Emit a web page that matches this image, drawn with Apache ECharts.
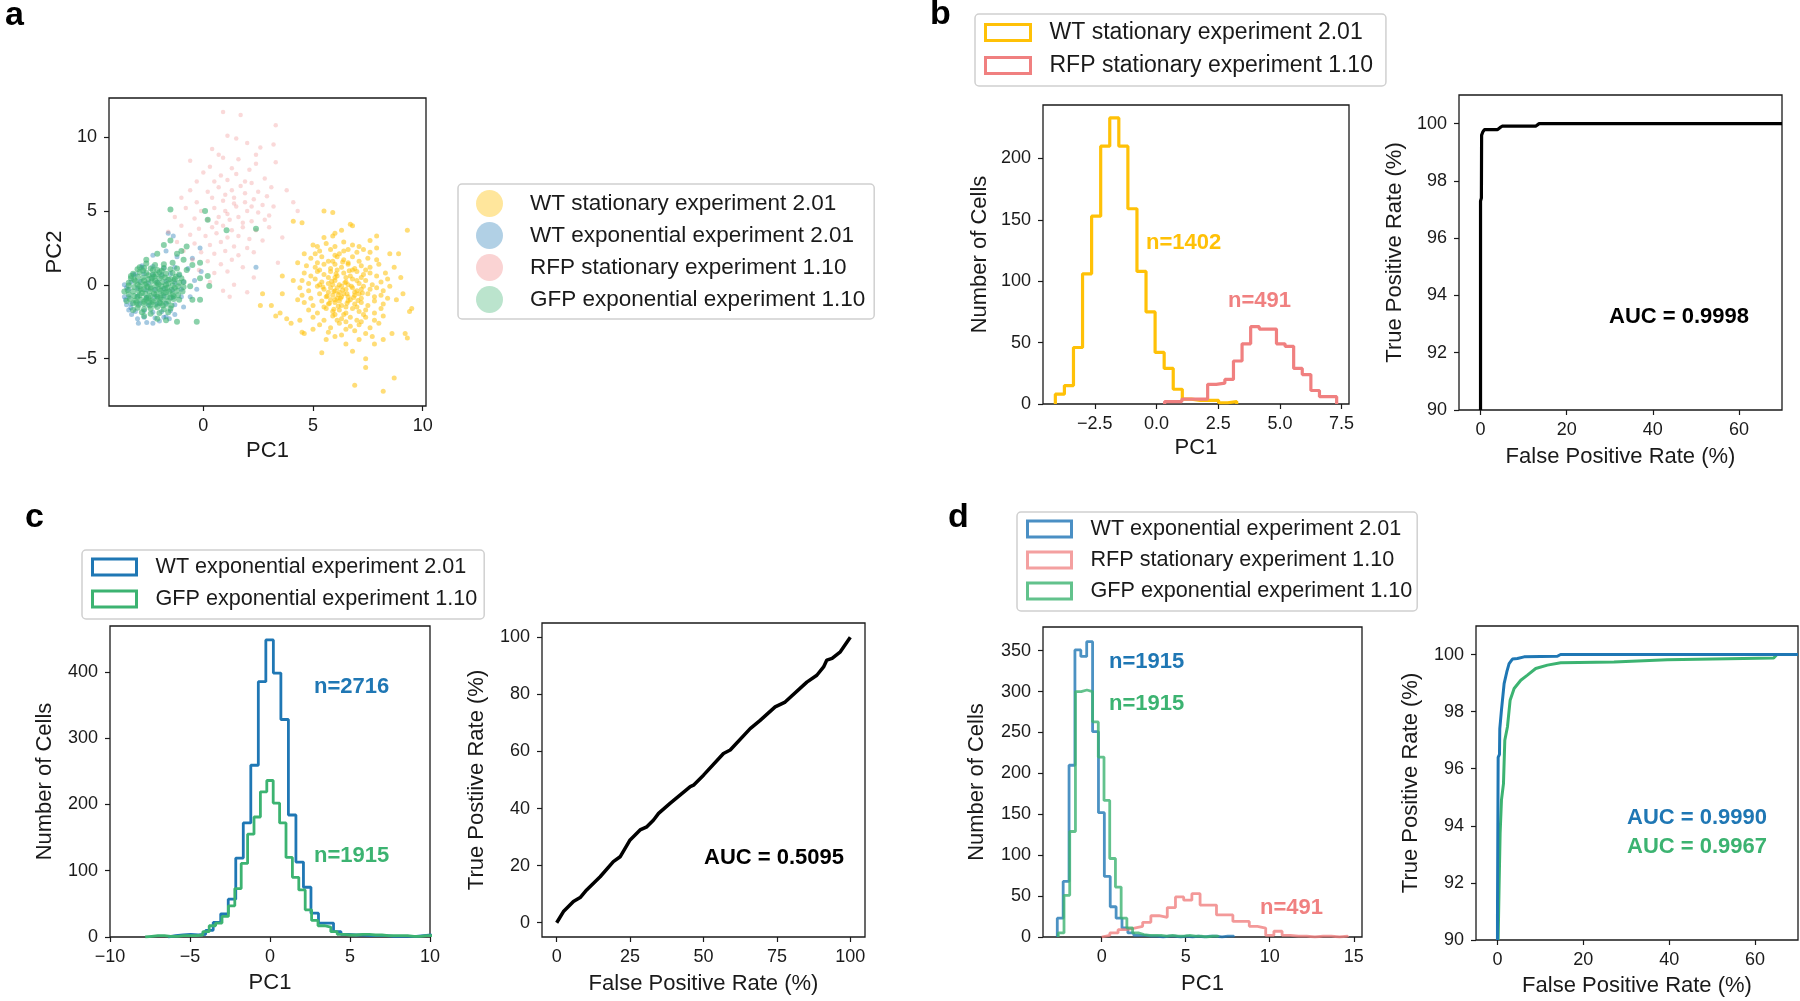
<!DOCTYPE html>
<html>
<head>
<meta charset="utf-8">
<title>PCA histograms and ROC curves</title>
<script src="https://cdn.jsdelivr.net/npm/echarts@6/dist/echarts.min.js"></script>
<style>
  html, body { margin: 0; padding: 0; background: #fff; }
  #chart { width: 1800px; height: 1001px; }
</style>
</head>
<body>
<div id="chart"></div>
<script>
// ---- names ----
const WT_STAT = 'WT stationary experiment 2.01';
const WT_EXP = 'WT exponential experiment 2.01';
const RFP_STAT = 'RFP stationary experiment 1.10';
const GFP_EXP = 'GFP exponential experiment 1.10';

// ---- panel a: PC1 / PC2 scatter ----
const wtStationaryPts = [
  [5.5,5.0],[5.9,4.9],[9.3,3.7],[4.1,4.3],[4.5,4.2],[7.9,3.3],[8.9,2.1],[9.4,-1.8],[9.5,-1.6],[9.2,-3.3],
  [9.3,-3.6],[8.7,-6.3],[8.2,-7.2],[6.9,-6.8],[5.4,-4.6],[6.8,-4.5],[7.4,-5.0],[7.4,-5.6],[3.3,-2.1],[3.1,-1.4],
  [2.7,-0.6],[2.6,-1.4],[3.6,0.6],[3.6,-0.6],[3.5,-1.9],[3.8,-2.3],[4.0,-2.6],[4.5,-3.2],[4.6,-3.3],[7.6,3.0],
  [6.8,4.0],[6.7,4.1],[6.3,3.7],[6.0,3.5],[7.9,2.5],[8.5,2.1],[8.7,1.2],[9.0,0.5],[9.1,-0.6],[8.8,-1.0],
  [8.6,-3.3],[8.2,-3.7],[7.8,-4.0],[7.1,-3.7],[6.5,-4.0],[5.6,-3.7],[5.0,-3.0],[4.4,-2.4],[4.3,-1.0],[4.1,0.3],
  [4.3,1.5],[4.6,2.1],[5.0,2.7],[5.5,3.2],[5.9,3.3],
  [5.6,2.8],[6.4,2.9],[7.1,2.6],[6.0,2.6],[6.8,2.7],[5.2,2.6],
  [5.3,2.3],[5.8,2.4],[6.2,2.1],[6.6,2.4],[7.0,2.2],[7.3,2.4],[6.0,2.0],[5.1,2.1],[7.6,2.2],[6.4,2.3],
  [4.9,1.8],[5.4,1.9],[5.7,1.6],[6.1,1.9],[6.4,1.7],[6.8,1.9],[7.1,1.6],[7.5,1.8],[7.9,1.7],[5.9,1.6],[6.6,1.5],[5.2,1.5],
  [4.7,1.3],[5.1,1.2],[5.5,1.4],[5.8,1.1],[6.0,1.4],[6.3,1.2],[6.6,1.4],[6.9,1.1],[7.2,1.3],[7.6,1.2],[8.0,1.4],[5.3,1.0],[6.8,1.0],[7.4,1.0],[6.1,1.0],
  [4.6,0.8],[4.9,0.6],[5.2,0.9],[5.5,0.7],[5.8,0.9],[6.1,0.6],[6.4,0.8],[6.7,0.6],[7.0,0.9],[7.3,0.7],[7.6,0.8],[7.9,0.6],[8.3,0.8],[6.0,0.5],[6.5,0.5],[5.7,0.5],[7.2,0.5],
  [4.5,0.3],[4.8,0.1],[5.1,0.4],[5.4,0.2],[5.7,0.1],[6.0,0.3],[6.2,0.0],[6.5,0.2],[6.8,0.4],[7.1,0.1],[7.4,0.3],[7.7,0.0],[8.1,0.2],[8.4,0.4],[5.9,0.0],[6.6,0.0],[7.0,0.3],[5.3,0.0],
  [4.4,-0.2],[4.8,-0.4],[5.2,-0.1],[5.5,-0.3],[5.8,-0.2],[6.0,-0.4],[6.3,-0.1],[6.5,-0.3],[6.8,-0.2],[7.0,-0.4],[7.3,-0.1],[7.6,-0.3],[7.9,-0.2],[8.2,-0.4],[8.5,-0.1],[5.7,-0.5],[6.2,-0.5],[6.9,-0.5],[6.1,-0.2],[7.2,-0.3],
  [4.5,-0.7],[4.9,-0.9],[5.3,-0.6],[5.6,-0.8],[5.9,-0.7],[6.1,-0.9],[6.4,-0.6],[6.6,-0.8],[6.9,-0.7],[7.2,-0.9],[7.5,-0.6],[7.8,-0.8],[8.1,-0.7],[8.4,-0.9],[6.0,-1.0],[6.7,-1.0],[7.1,-0.6],[6.3,-0.8],[5.8,-1.0],
  [4.6,-1.2],[5.0,-1.4],[5.4,-1.1],[5.7,-1.3],[6.0,-1.2],[6.3,-1.4],[6.6,-1.1],[6.9,-1.3],[7.2,-1.2],[7.5,-1.4],[7.8,-1.1],[8.2,-1.3],[6.5,-1.5],[7.0,-1.5],[6.2,-1.1],[5.5,-1.5],
  [4.8,-1.7],[5.2,-1.9],[5.6,-1.6],[5.9,-1.8],[6.2,-1.7],[6.5,-1.9],[6.8,-1.6],[7.1,-1.8],[7.4,-1.7],[7.8,-1.9],[8.1,-1.6],[6.4,-2.0],[6.0,-2.0],[7.3,-2.0],
  [5.0,-2.2],[5.5,-2.4],[5.9,-2.1],[6.3,-2.3],[6.7,-2.2],[7.0,-2.4],[7.4,-2.2],[7.8,-2.4],[8.2,-2.1],[6.5,-2.5],[6.1,-2.4],[7.2,-2.5],
  [5.3,-2.7],[5.8,-2.9],[6.2,-2.6],[6.7,-2.8],[7.1,-2.7],[7.6,-2.9],[8.0,-2.6],[6.5,-3.0],
  [5.7,-3.2],[6.3,-3.4],[6.9,-3.1],[7.4,-3.3],[6.0,-3.5],[7.7,-3.5],
  [6.15,-0.65],[6.35,-0.35],[5.95,-0.45],[6.55,-0.6],[6.25,-0.9],[6.45,0.15],[5.85,0.25],[6.75,-0.1],[5.65,-0.75],[6.85,-0.85],
  [6.05,0.75],[6.65,0.95],[5.45,-0.15],[7.05,-1.05],[6.15,-1.45],[6.55,-1.25],[5.75,-1.25],[7.25,-0.55],[6.35,1.55],[5.95,-1.65]
];
const wtExponentialPts = [
  [-2.8,1.2],[-2.3,1.25],[-1.8,1.15],[-1.3,1.2],
  [-3.1,0.7],[-2.7,0.75],[-2.3,0.65],[-1.9,0.7],[-1.5,0.75],[-1.1,0.65],
  [-3.3,0.2],[-2.9,0.25],[-2.5,0.15],[-2.1,0.2],[-1.7,0.25],[-1.3,0.15],[-0.9,0.2],
  [-3.4,-0.3],[-3.0,-0.25],[-2.6,-0.35],[-2.2,-0.3],[-1.8,-0.25],[-1.4,-0.35],[-1.0,-0.3],
  [-3.4,-0.8],[-3.0,-0.75],[-2.6,-0.85],[-2.2,-0.8],[-1.8,-0.75],[-1.4,-0.85],[-1.0,-0.8],
  [-3.3,-1.3],[-2.9,-1.25],[-2.5,-1.35],[-2.1,-1.3],[-1.7,-1.25],[-1.3,-1.35],
  [-3.1,-1.8],[-2.7,-1.75],[-2.3,-1.85],[-1.9,-1.8],[-1.5,-1.75],
  [-2.7,-2.2],[-2.2,-2.25],[-1.7,-2.15],
  [-3.5,-1.35],[-3.27,-2.0],[-2.96,-2.6],[-2.58,-2.55],[-0.15,2.5],[-0.5,1.8],[2.4,1.2],[-1.6,3.5],
  [-1.37,3.3],[-3.6,-0.8],[-3.5,-0.2],[-3.4,-1.7],[-3.0,-2.3],[-2.3,-2.6],[-1.8,-2.2],[-1.3,-2.0],
  [-0.9,-1.5],[-0.6,-0.8],[-0.4,0.3],[-0.7,1.1],[-1.2,1.9],[-1.7,2.3],[-2.3,2.0],[-2.8,1.3],
  [-3.2,0.7],[-3.6,0.0],[-0.1,0.9],[-0.3,-0.3],[-3.55,-1.0],[-3.3,-1.55],[-2.0,-2.45],[-1.55,-2.3]
];
const rfpStationaryPts = [
  [0.9,11.7],[1.7,11.5],[3.3,10.8],[1.1,10.1],[1.5,9.9],[3.2,9.5],[2.4,8.8],[2.4,8.2],[-0.6,8.4],[3.3,8.3],
  [4.1,5.6],[3.8,6.4],[0.7,8.8],[0.9,8.6],[1.6,8.5],[0.3,8.0],[1.3,7.9],[2.1,7.8],[0.0,7.6],[0.8,7.4],
  [1.5,7.5],[2.8,7.2],[-0.3,7.0],[0.5,7.0],[1.1,7.1],[1.9,7.0],[2.2,6.9],[3.1,6.6],[-0.6,6.4],[0.2,6.3],
  [0.7,6.6],[1.3,6.4],[1.7,6.7],[2.5,6.3],[2.9,6.0],[-1.0,5.9],[-0.3,5.6],[0.4,5.9],[0.9,5.7],[1.4,5.9],
  [1.9,5.6],[2.3,5.8],[2.7,5.4],[3.2,5.3],[-0.8,5.2],[-0.1,5.0],[0.5,5.2],[1.0,5.0],[1.5,5.3],[2.0,5.0],
  [2.5,4.9],[3.0,4.7],[-1.3,4.6],[-0.4,4.5],[0.2,4.4],[0.7,4.6],[1.2,4.4],[1.6,4.6],[2.2,4.3],[2.8,4.4],
  [-1.0,4.0],[-0.2,3.8],[0.4,3.9],[0.9,4.0],[1.3,3.7],[1.8,3.9],[2.4,3.7],[3.0,3.9],[-1.6,3.6],[-0.6,3.4],
  [0.1,3.3],[0.6,3.5],[1.1,3.2],[1.6,3.3],[2.1,3.1],[2.7,3.0],[-1.2,2.9],[-0.4,2.8],[0.3,2.7],[0.8,2.9],
  [1.4,2.6],[2.0,2.5],[-0.9,2.3],[-0.1,2.2],[0.5,2.1],[1.0,2.3],[1.6,2.0],[2.3,2.2],[-0.5,1.7],[0.2,1.6],
  [0.8,1.4],[1.3,1.7],[-0.2,1.0],[0.5,0.8],[1.1,0.9],[1.8,1.2],[0.3,0.2],[1.4,0.0],[2.3,0.5],[0.9,-0.4],
  [2.0,-0.5],[1.2,-0.8],[3.4,1.5],[3.6,3.2],[4.3,5.0],[2.6,9.3],[2.0,9.6],[0.4,9.2],[1.1,4.8],[1.8,4.2],
  [0.6,4.2],[1.4,5.5],[2.2,5.3],[1.0,6.1],[1.9,6.2]
];
const gfpExponentialPts = [
  [-2.6,1.45],[-2.2,1.35],[-1.8,1.4],[-1.4,1.5],
  [-3.0,1.05],[-2.7,1.15],[-2.4,1.1],[-2.1,1.0],[-1.8,1.15],[-1.5,1.05],[-1.2,1.1],
  [-3.2,0.75],[-2.9,0.85],[-2.6,0.8],[-2.3,0.7],[-2.0,0.85],[-1.7,0.75],[-1.4,0.8],[-1.1,0.7],
  [-3.3,0.45],[-3.0,0.55],[-2.75,0.5],[-2.5,0.4],[-2.25,0.55],[-2.0,0.45],[-1.75,0.5],[-1.5,0.4],[-1.25,0.55],[-1.0,0.45],
  [-3.4,0.15],[-3.1,0.25],[-2.85,0.2],[-2.6,0.1],[-2.35,0.25],[-2.1,0.15],[-1.85,0.2],[-1.6,0.1],[-1.35,0.25],[-1.1,0.15],[-0.9,0.2],
  [-3.4,-0.05],[-3.15,-0.15],[-2.9,-0.1],[-2.65,0.0],[-2.4,-0.15],[-2.15,-0.05],[-1.9,-0.1],[-1.65,-0.2],[-1.4,-0.05],[-1.15,-0.1],[-0.9,-0.15],
  [-3.45,-0.35],[-3.2,-0.45],[-2.95,-0.4],[-2.7,-0.3],[-2.45,-0.45],[-2.2,-0.35],[-1.95,-0.4],[-1.7,-0.5],[-1.45,-0.35],[-1.2,-0.4],[-0.95,-0.45],
  [-3.4,-0.65],[-3.15,-0.75],[-2.9,-0.7],[-2.65,-0.6],[-2.4,-0.75],[-2.15,-0.65],[-1.9,-0.7],[-1.65,-0.8],[-1.4,-0.65],[-1.15,-0.7],
  [-3.35,-0.95],[-3.1,-1.05],[-2.85,-1.0],[-2.6,-0.9],[-2.35,-1.05],[-2.1,-0.95],[-1.85,-1.0],[-1.6,-1.1],[-1.35,-0.95],[-1.1,-1.0],
  [-3.2,-1.25],[-2.95,-1.35],[-2.7,-1.3],[-2.45,-1.2],[-2.2,-1.35],[-1.95,-1.25],[-1.7,-1.3],[-1.45,-1.4],
  [-3.0,-1.55],[-2.7,-1.65],[-2.4,-1.6],[-2.1,-1.5],[-1.8,-1.65],[-1.5,-1.6],
  [-2.8,-1.85],[-2.4,-1.95],[-2.0,-1.9],[-1.6,-1.85],
  [-2.5,0.65],[-2.2,0.3],[-1.9,0.6],[-2.7,0.3],[-2.4,-0.25],[-2.0,-0.3],[-1.6,0.35],[-2.8,-0.55],[-2.5,-0.85],[-2.1,-0.8],
  [-1.8,-0.55],[-1.5,-0.85],[-2.3,-1.15],[-2.0,-1.2],[-2.7,-1.15],[-1.7,0.0],[-3.0,0.0],[-2.3,1.0],[-1.9,0.95],[-3.0,-0.8],
  [-1.3,-0.2],[-1.3,0.4],
  [-2.55,-0.15],[-2.25,-0.6],[-2.05,0.05],[-1.75,-0.25],[-2.85,-0.3],[-2.35,0.45],[-1.95,-0.85],[-2.6,-1.0],[-1.55,-0.45],[-2.15,0.7],
  [-2.45,-1.4],[-1.85,-1.4],[-3.05,-1.2],[-1.35,-0.75],[-3.15,0.35],[-2.75,0.95],
  [0.08,5.0],[-1.5,5.1],[0.2,4.4],[1.06,3.7],[2.4,3.8],[-0.3,-2.5],[-1.2,-2.5],[-1.7,-2.4],[-2.1,-2.3],[-0.15,-1.0],
  [0.27,-0.07],[-0.15,0.45],[-0.76,2.6],[-1.0,2.3],[-1.2,2.1],[-1.5,3.0],[-1.8,2.7],[-2.1,2.1],[-2.6,1.7],[-2.9,1.2],
  [-3.3,0.6],[-3.6,-0.45],[-3.5,-1.1],[-3.2,-1.7],[-2.7,-2.1],[-0.5,-1.0],[-0.6,-0.1],[-0.76,1.0],[-0.5,1.35],[-0.9,1.7],
  [-0.15,1.5],[0.2,0.6]
];

// ---- panel b: histogram bins (start, width, counts) ----
const bWtStatStart = -4.10, bWtStatWidth = 0.3675;
const bWtStatCounts = [8, 15, 46, 106, 153, 210, 233, 210, 159, 108, 75, 42, 29, 12, 4, 3, 3, 3, 1, 2];
const bRfpStart = 0.33, bRfpWidth = 0.3485;
const bRfpCounts = [2, 2, 4, 4, 4, 16, 17, 20, 35, 49, 63, 61, 61, 49, 47, 29, 24, 11, 6, 6];
const rocB = [[0,90],[0,97.3],[0.2,97.4],[0.25,99.6],[0.5,99.7],[0.9,99.79],[3.9,99.79],[4.5,99.86],
  [5.0,99.91],[12.8,99.91],[13.6,100],[70,100]];

// ---- panel c ----
const cWtExpStart = -6.37, cWtExpWidth = 0.47;
const cWtExpCounts = [2, 3, 4, 3, 4, 10, 22, 35, 57, 119, 172, 259, 385, 448, 398, 328, 184, 113, 75, 36,
  21, 21, 8, 4, 3, 3, 2, 2, 2, 1, 1, 1, 1, 2, 3];
const cGfpStart = -7.8, cGfpWidth = 0.40;
const cGfpCounts = [1, 2, 2, 1, 1, 2, 2, 2, 3, 8, 17, 21, 31, 47, 73, 111, 155, 181, 219, 236,
  202, 172, 120, 90, 71, 41, 25, 17, 15, 8, 4, 3, 3, 4, 4, 3, 3, 2, 2, 2, 2, 1, 1, 2, 2];
const rocC = [[0,0],[2.3,3.9],[5.7,7.4],[8.0,8.8],[10.2,11.5],[14.8,16.1],[19.3,21.4],[21.6,23.1],[25.0,29.0],
  [28.4,32.5],[30.7,33.6],[33.0,36.0],[34.7,38.3],[38.6,41.8],[45.5,47.7],[46.6,48.2],[50.0,51.7],[56.8,59.3],
  [59.1,60.5],[65.9,68.0],[69.3,70.9],[74.4,75.6],[77.8,77.3],[85.2,84.3],[88.6,86.7],[90.9,89.6],[92.0,92.0],
  [93.8,92.6],[96.6,94.9],[100,100]];

// ---- panel d ----
const dWtExpStart = -2.64, dWtExpWidth = 0.35;
const dWtExpCounts = [23, 68, 210, 351, 343, 361, 251, 152, 74, 37, 23, 11, 5, 2, 2, 1, 1, 0, 1, 1, 0, 1, 0, 1, 0, 1, 1, 0, 1, 1];
const dRfpStart = 0.0, dRfpWidth = 0.488;
const dRfpCounts = [2, 5, 9, 11, 13, 18, 26, 24, 36, 49, 45, 53, 39, 39, 27, 27, 19, 19, 13, 11, 2, 7, 2, 1, 1, 0, 1, 1, 0, 1];
const dGfpStart = -2.58, dGfpWidth = 0.34;
const dGfpCounts = [5, 51, 129, 300, 302, 300, 263, 220, 167, 96, 61, 23, 11, 5, 3, 2, 2, 2, 1, 2, 1, 1, 2, 1, 1, 0, 1, 1];
const rocDWt = [[0,90],[0,90.9],[0.16,96.4],[0.47,96.5],[0.54,97.4],[0.93,98.05],[1.55,98.98],[2.17,99.39],
  [2.71,99.68],[3.49,99.84],[4.65,99.86],[6.2,99.92],[13.95,99.94],[14.7,100],[70,100]];
const rocDGfp = [[0.16,90],[0.39,91.98],[0.62,93.73],[0.93,94.9],[1.4,95.48],[1.71,97.0],[2.33,97.47],[2.95,98.4],
  [3.88,98.81],[5.43,99.1],[6.98,99.28],[8.91,99.51],[11.63,99.63],[14.73,99.71],[27.13,99.74],[39.53,99.82],
  [64.34,99.88],[65.1,100],[70,100]];

// ---- style ----
const FONT = '"Liberation Sans", Arial, Helvetica, sans-serif';
const INK = '#1a1a1a';
const YELLOW = '#ffc107';
const RED = '#f08080';
const BLUE = '#1f77b4';
const GREEN = '#3cb371';

function steps(start, width, counts) {
  const pts = [[start, 0]];
  counts.forEach((c, i) => {
    pts.push([start + i * width, c], [start + (i + 1) * width, c]);
  });
  pts.push([start + counts.length * width, 0]);
  return pts;
}

function fmt(dec) {
  return v => (dec ? v.toFixed(dec) : String(v)).replace('-', '\u2212');
}

function axis(kind, i, min, max, ticks, name, nameGap, dec) {
  const isX = kind === 'x';
  return {
    type: 'value', gridIndex: i, min: min, max: max,
    position: isX ? 'bottom' : 'left',
    axisLine: { show: false, onZero: false },
    splitLine: { show: false },
    axisTick: { show: true, inside: false, length: 5, customValues: ticks, lineStyle: { color: INK, width: 1.2 } },
    axisLabel: { customValues: ticks, formatter: fmt(dec), fontSize: 18, color: INK, fontFamily: FONT, margin: isX ? 11 : 12 },
    name: name, nameLocation: 'middle', nameGap: nameGap,
    nameTextStyle: { fontSize: 22, color: INK, fontFamily: FONT }
  };
}

function grid(left, top, width, height) {
  return { left, top, width, height, show: true, borderColor: INK, borderWidth: 1.3, backgroundColor: 'transparent' };
}

function line(i, name, data, color, width, opacity) {
  return {
    type: 'line', name, xAxisIndex: i, yAxisIndex: i, data,
    symbol: 'none', showSymbol: false, silent: true, clip: true,
    lineStyle: { color, width, opacity: opacity || 1 },
    itemStyle: { color }
  };
}

function scatter(name, data, color, size, opacity) {
  return {
    type: 'scatter', name, xAxisIndex: 0, yAxisIndex: 0, data,
    symbolSize: size, silent: true,
    itemStyle: { color, opacity }
  };
}

function rectItem(name, color) {
  return { name, icon: 'rect', itemStyle: { color: 'rgba(255,255,255,0)', borderColor: color, borderWidth: 3, opacity: 1 } };
}

function legend(left, top, padding, gap, fontSize, data, w, h, textPad) {
  return {
    orient: 'vertical', left, top, padding, itemGap: gap,
    itemWidth: w, itemHeight: h, selectedMode: false,
    borderColor: '#d0d0d0', borderWidth: 1.5, borderRadius: 4, backgroundColor: '#fff',
    textStyle: { fontSize, color: INK, fontFamily: FONT, padding: [0, 0, 0, textPad] },
    data
  };
}

function label(x, y, text, color, size) {
  return {
    type: 'text', x, y, silent: true,
    style: { text, fill: color, font: 'bold ' + (size || 22) + 'px ' + FONT, verticalAlign: 'middle', align: 'left' }
  };
}

const chart = echarts.init(document.getElementById('chart'), null, { renderer: 'canvas' });

chart.setOption({
  animation: false,
  backgroundColor: '#fff',
  textStyle: { fontFamily: FONT },
  grid: [
    grid(109, 98, 317, 308),
    grid(1043, 105, 306, 299),
    grid(1459, 95, 323, 315),
    grid(110, 626, 320, 311),
    grid(542, 623, 323, 314),
    grid(1043, 627, 319, 310),
    grid(1476, 626, 322, 314)
  ],
  xAxis: [
    axis('x', 0, -4.3, 10.15, [0, 5, 10], 'PC1', 34, 0),
    axis('x', 1, -4.6, 7.8, [-2.5, 0, 2.5, 5, 7.5], 'PC1', 33, 1),
    axis('x', 2, -5, 70, [0, 20, 40, 60], 'False Positive Rate (%)', 36, 0),
    axis('x', 3, -10, 10, [-10, -5, 0, 5, 10], 'PC1', 35, 0),
    axis('x', 4, -5, 105, [0, 25, 50, 75, 100], 'False Positive Rate (%)', 36, 0),
    axis('x', 5, -3.49, 15.49, [0, 5, 10, 15], 'PC1', 36, 0),
    axis('x', 6, -5, 70, [0, 20, 40, 60], 'False Positive Rate (%)', 35, 0)
  ],
  yAxis: [
    axis('y', 0, -8.2, 12.65, [-5, 0, 5, 10], 'PC2', 43, 0),
    axis('y', 1, 0, 243.5, [0, 50, 100, 150, 200], 'Number of Cells', 52, 0),
    axis('y', 2, 90, 101, [90, 92, 94, 96, 98, 100], 'True Positive Rate (%)', 53, 0),
    axis('y', 3, 0, 469, [0, 100, 200, 300, 400], 'Number of Cells', 54, 0),
    axis('y', 4, -5, 105, [0, 20, 40, 60, 80, 100], 'True Postiive Rate (%)', 54, 0),
    axis('y', 5, 0, 379, [0, 50, 100, 150, 200, 250, 300, 350], 'Number of Cells', 55, 0),
    axis('y', 6, 90, 101, [90, 92, 94, 96, 98, 100], 'True Positive Rate (%)', 54, 0)
  ],
  legend: [
    legend(458, 184, [6, 9, 6, 18], 5, 22.5, [
      { name: WT_STAT, icon: 'circle', itemStyle: { color: 'rgba(255,193,7,0.4)', borderWidth: 0, opacity: 1 } },
      { name: WT_EXP, icon: 'circle', itemStyle: { color: 'rgba(31,119,180,0.35)', borderWidth: 0, opacity: 1 } },
      { name: RFP_STAT, icon: 'circle', itemStyle: { color: 'rgba(240,128,128,0.35)', borderWidth: 0, opacity: 1 } },
      { name: GFP_EXP, icon: 'circle', itemStyle: { color: 'rgba(60,179,113,0.35)', borderWidth: 0, opacity: 1 } }
    ], 27, 27, 22),
    legend(975, 14, [7, 13, 9, 9], 10, 23, [rectItem(WT_STAT, YELLOW), rectItem(RFP_STAT, RED)], 45, 16, 14),
    legend(82, 550, [6, 7, 9, 9], 10, 21.6, [rectItem(WT_EXP, BLUE), rectItem(GFP_EXP, GREEN)], 44, 16, 14),
    legend(1017, 512, [6, 5, 9, 9], 9, 21.6, [
      rectItem(WT_EXP, '#4a8fc4'), rectItem(RFP_STAT, '#f4a0a0'), rectItem(GFP_EXP, '#62c28c')
    ], 44, 16, 14)
  ],
  series: [
    scatter(WT_STAT, wtStationaryPts, YELLOW, 5, 0.55),
    scatter(WT_EXP, wtExponentialPts, BLUE, 5, 0.4),
    scatter(RFP_STAT, rfpStationaryPts, RED, 4.5, 0.3),
    scatter(GFP_EXP, gfpExponentialPts, GREEN, 6, 0.6),

    line(1, WT_STAT, steps(bWtStatStart, bWtStatWidth, bWtStatCounts), YELLOW, 3.2),
    line(1, RFP_STAT, steps(bRfpStart, bRfpWidth, bRfpCounts), RED, 3.2),
    line(2, 'ROC b', rocB, '#000', 3.2),

    line(3, WT_EXP, steps(cWtExpStart, cWtExpWidth, cWtExpCounts), BLUE, 2.8),
    line(3, GFP_EXP, steps(cGfpStart, cGfpWidth, cGfpCounts), GREEN, 2.8),
    line(4, 'ROC c', rocC, '#000', 3.5),

    line(5, WT_EXP, steps(dWtExpStart, dWtExpWidth, dWtExpCounts), BLUE, 2.8, 0.8),
    line(5, RFP_STAT, steps(dRfpStart, dRfpWidth, dRfpCounts), RED, 2.8, 0.8),
    line(5, GFP_EXP, steps(dGfpStart, dGfpWidth, dGfpCounts), GREEN, 2.8, 0.8),
    line(6, 'ROC d GFP', rocDGfp, GREEN, 3),
    line(6, 'ROC d WT', rocDWt, BLUE, 3)
  ],
  graphic: [
    label(5, 16, 'a', '#000', 34),
    label(930, 15, 'b', '#000', 34),
    label(25, 518, 'c', '#000', 34),
    label(948, 518, 'd', '#000', 34),
    label(1146, 243, 'n=1402', YELLOW),
    label(1228, 301, 'n=491', RED),
    label(1609, 317, 'AUC = 0.9998', '#000'),
    label(314, 687, 'n=2716', BLUE),
    label(314, 856, 'n=1915', GREEN),
    label(704, 858, 'AUC = 0.5095', '#000'),
    label(1109, 662, 'n=1915', BLUE),
    label(1109, 704, 'n=1915', GREEN),
    label(1260, 908, 'n=491', RED),
    label(1627, 818, 'AUC = 0.9990', BLUE),
    label(1627, 847, 'AUC = 0.9967', GREEN)
  ]
});

window.addEventListener('resize', () => chart.resize());
</script>
</body>
</html>
